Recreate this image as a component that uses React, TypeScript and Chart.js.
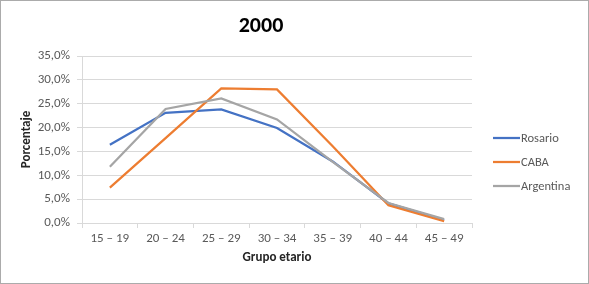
import React, { useEffect, useRef } from "react";
import { Chart, registerables } from "chart.js";

Chart.register(...registerables);

const categories = ["15 – 19", "20 – 24", "25 – 29", "30 – 34", "35 – 39", "40 – 44", "45 – 49"];
const rosario = [16.4, 23.1, 23.8, 19.9, 12.9, 4.1, 0.6];
const caba = [7.4, 17.8, 28.2, 28.0, 16.1, 3.7, 0.4];
const argentina = [11.8, 23.9, 26.1, 21.7, 12.8, 4.2, 0.8];
const yTicks = [0, 5, 10, 15, 20, 25, 30, 35];
const seriesNames = ["Rosario", "CABA", "Argentina"];
const seriesColors = ["#4472C4", "#ED7D31", "#A5A5A5"];
const chartTitle = "2000";
const yTitle = "Porcentaje";
const xTitle = "Grupo etario";

const FONT = "Carlito, Calibri, Lato, 'Noto Sans', sans-serif";
const W = 589;
const H = 284;

export default function App() {
  const ref = useRef<HTMLCanvasElement | null>(null);

  useEffect(() => {
    document.body.style.margin = "0";
    const canvas = ref.current;
    if (!canvas) return;

    const decor = {
      id: "decor",
      afterDraw(chart: any) {
        const ctx = chart.ctx;
        const area = chart.chartArea;
        ctx.save();
        ctx.strokeStyle = "#ABABAB";
        ctx.lineWidth = 1;
        ctx.strokeRect(0.5, 0.5, W - 1, H - 1);
        ctx.fillStyle = "#000000";
        ctx.font = `bold 22px ${FONT}`;
        ctx.textAlign = "center";
        ctx.textBaseline = "middle";
        ctx.fillText(chartTitle, 261, 26);
        ctx.font = `12.5px ${FONT}`;
        ctx.textAlign = "left";
        const lx = area.right + 21;
        const ly0 = area.top + 82;
        chart.data.datasets.forEach((ds: any, i: number) => {
          const y = ly0 + i * 24;
          ctx.strokeStyle = ds.borderColor;
          ctx.lineWidth = 2.25;
          ctx.beginPath();
          ctx.moveTo(lx, y);
          ctx.lineTo(lx + 27, y);
          ctx.stroke();
          ctx.fillStyle = "#595959";
          ctx.fillText(ds.label, lx + 28, y + 0.5);
        });
        ctx.restore();
      },
    };

    const chart = new Chart(canvas, {
      type: "line",
      data: {
        labels: categories,
        datasets: [rosario, caba, argentina].map((d, i) => ({
          label: seriesNames[i],
          data: d,
          borderColor: seriesColors[i],
          backgroundColor: seriesColors[i],
          borderWidth: 2.25,
          pointRadius: 0,
          tension: 0,
          fill: false,
          order: 3 - i,
        })),
      },
      options: {
        responsive: false,
        animation: false,
        devicePixelRatio: 1,
        layout: { padding: { top: 56, left: 0, right: 117, bottom: 0 } },
        plugins: {
          legend: { display: false },
          title: { display: false },
          tooltip: { enabled: false },
        },
        scales: {
          x: {
            type: "category",
            offset: true,
            grid: {
              offset: true,
              drawOnChartArea: false,
              drawTicks: true,
              tickLength: 5,
              color: "#D9D9D9",
            },
            border: { display: true, color: "#D9D9D9" },
            ticks: {
              color: "#595959",
              font: { family: FONT, size: 13 },
              padding: 3,
              maxRotation: 0,
              autoSkip: false,
            },
            title: {
              display: true,
              text: xTitle,
              color: "#262626",
              font: { family: FONT, size: 13, weight: "bold" },
              padding: { top: 0, bottom: 18 },
            },
            afterFit(scale: any) {
              scale.height = 61;
              scale.paddingLeft = 0;
              scale.paddingRight = 0;
            },
          },
          y: {
            min: 0,
            max: 35,
            afterBuildTicks(scale: any) {
              scale.ticks = yTicks.map((v) => ({ value: v }));
            },
            grid: {
              color: "#D9D9D9",
              drawTicks: true,
              tickLength: 5,
            },
            border: { display: true, color: "#D9D9D9" },
            ticks: {
              color: "#595959",
              font: { family: FONT, size: 13 },
              padding: 7,
              callback: (v: any) => Number(v).toFixed(1).replace(".", ",") + "%",
            },
            title: {
              display: true,
              text: yTitle,
              color: "#262626",
              font: { family: FONT, size: 13, weight: "bold" },
              padding: { top: 19, bottom: 0 },
            },
            afterFit(scale: any) {
              scale.width = 82;
              scale.paddingTop = 0;
              scale.paddingBottom = 0;
            },
          },
        },
      },
      plugins: [decor],
    } as any);

    return () => chart.destroy();
  }, []);

  return (
    <div style={{ width: W, height: H, position: "relative" }}>
      <canvas ref={ref} width={W} height={H} style={{ display: "block", width: W, height: H }} />
    </div>
  );
}
